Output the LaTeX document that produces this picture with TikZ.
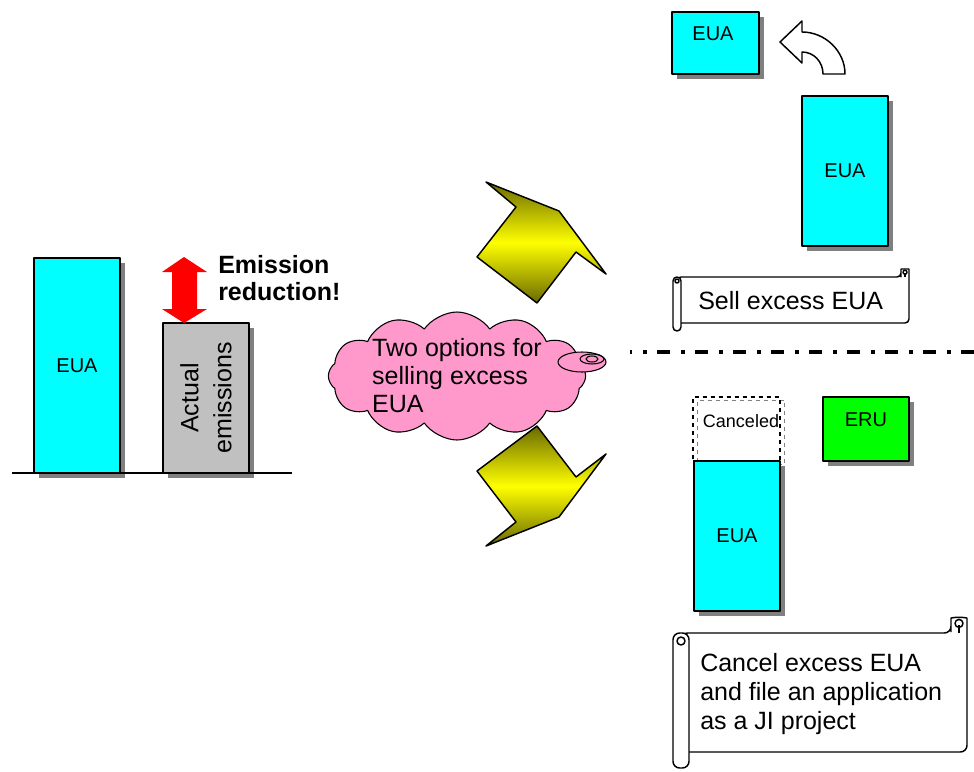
\documentclass[tikz,border=0pt]{standalone}
\usepackage{fontspec}
\setmainfont{Liberation Sans}
\usetikzlibrary{shapes.symbols, shadows, positioning}

\definecolor{shadowgray}{RGB}{128,128,128}
\definecolor{emisgray}{RGB}{192,192,192}
\definecolor{cloudpink}{RGB}{255,153,204}
\definecolor{arrowolive}{RGB}{105,105,0}
\definecolor{euacyan}{RGB}{0,255,255}
\definecolor{erugreen}{RGB}{0,255,0}

% scroll banner: left, top, right, bottom, curl size, corner radius
\newcommand{\scrollbox}[6]{%
  \draw[scrollline, fill=white, rounded corners=#6]
    ({#1+#5/2},#2) -- ({#3-#5},#2) -- ({#3-#5},{#2-#5/2})
    .. controls ({#3-#5},{#2-#5}) and (#3,{#2-#5}) .. (#3,{#2-#5/2})
    -- (#3,#4) -- ({#1+#5/2},#4) -- cycle;
  \draw[scrollline] ({#3-#5/2},#2) -- ({#3-#5/2},{#2-#5/2});
  \draw[scrollline] ({#3-#5/2},{#2-#5*0.6}) circle[radius=#5/4];
  \draw[scrollline, fill=white, rounded corners=#6] (#1,#2) rectangle ({#1+#5},{#4+#5});
  \draw[scrollline] ({#1+#5/2},{#2+#5/2}) circle[radius=#5/4];
}

\begin{document}
\begin{tikzpicture}[x=0.75pt, y=-0.75pt, line join=round,
    every node/.style={font=\fontsize{18.75}{21.75}\selectfont},
    scrollline/.style={line width=1.1pt},
    allowance/.style={draw, line width=1.1pt, fill=euacyan, inner sep=0pt,
        minimum width=64.5pt, font=\fontsize{15}{18}\selectfont,
        drop shadow={shadow xshift=4pt, shadow yshift=-4pt, fill=shadowgray, opacity=1}},
    boxtext/.style={inner sep=0pt, font=\fontsize{15}{18}\selectfont},
    optionarrow/.style={draw, line width=1.1pt, top color=arrowolive,
        bottom color=arrowolive, middle color=yellow}]

    \useasboundingbox (0,0) rectangle (974,771);

    % --- Before: allowance vs. actual emissions ---
    \node[allowance, minimum height=161.25pt] (euaheld) at (77,365.5) {EUA};
    \node[allowance, fill=emisgray, minimum height=112.5pt] (actual) at (206,398) {};
    \node[rotate=90, align=center, font=\fontsize{18.75}{24.75}\selectfont]
        (actualtext) at (actual.center) {Actual\\emissions};
    \draw[line width=1.1pt] (12,473) -- (292,473);

    \fill[red] (184,257) -- (207,272) -- (197,272) -- (197,309) -- (207,309)
        -- (184,323) -- (162,309) -- (172,309) -- (172,272) -- (162,272) -- cycle;
    \node[anchor=west, align=left, inner sep=0pt,
        font=\bfseries\fontsize{18.75}{20.25}\selectfont]
        (reduction) at (218,278) {Emission\\reduction!};

    % --- Two options ---
    \draw[optionarrow] (486,182) -- (559,211) -- (606,274) -- (576,252)
        -- (537,303) -- (477,257) -- (516,207) -- cycle;
    \draw[optionarrow] (537,426) -- (576,477) -- (606,454) -- (559,517)
        -- (486,546) -- (516,522) -- (477,471) -- cycle;

    \node[cloud, cloud puffs=12, cloud puff arc=110, cloud ignores aspect, draw,
        line width=0.8pt, fill=cloudpink, inner sep=0pt,
        minimum width=193pt, minimum height=96pt] (cloud) at (457,376) {};
    \node[align=left, font=\fontsize{18.75}{21}\selectfont]
        (cloudtext) at (cloud.center) {Two options for\\selling excess\\EUA};
    \draw[line width=0.8pt, fill=cloudpink] (582,362) ellipse[x radius=24, y radius=10];
    \draw[line width=0.8pt] (592,359) ellipse[x radius=12, y radius=5];
    \draw[line width=0.8pt] (592,359) ellipse[x radius=6, y radius=3];

    \draw[line width=3pt, dash pattern=on 9.75pt off 8.6pt on 2.5pt off 7.65pt,
        dash phase=8.25pt] (630,352) -- (974,352);

    % --- Option 1: sell ---
    \node[allowance, minimum width=65.25pt, minimum height=46.5pt] (euasold) at (715.5,43) {};
    \node[boxtext] (euasoldtext) at (713,34) {EUA};
    \draw[line width=1.1pt, fill=white] (780,42) -- (802,21) -- (802,32)
        .. controls (825,32) and (845,51) .. (845,74) -- (823,74)
        .. controls (823,62) and (814,52) .. (802,52) -- (802,63) -- cycle;
    \node[allowance, minimum height=112.5pt] (euakept) at (845,171) {EUA};

    \scrollbox{673}{277}{909}{323}{8}{3pt}
    \node[anchor=west, inner sep=0pt] (selltext) at (698,301) {Sell excess EUA};

    % --- Option 2: cancel and JI ---
    \node[draw, dashed, line width=1.1pt, minimum width=65.25pt, minimum height=48pt,
        drop shadow={shadow xshift=3.5pt, shadow yshift=-2.5pt, fill=none,
            draw=shadowgray, dashed, opacity=1}] (canceled) at (736.5,429) {};
    \node[boxtext, font=\fontsize{13.5}{16}\selectfont] (canceledtext) at (741,421) {Canceled};
    \node[allowance, minimum height=112.5pt] (euaremain) at (737,536) {EUA};
    \node[allowance, fill=erugreen, minimum height=48pt] (eru) at (866,429) {};
    \node[boxtext] (erutext) at (866,420) {ERU};

    \scrollbox{673}{633}{967}{752}{16}{5pt}
    \node[anchor=west, align=left, inner sep=0pt] (jitext) at (700,694)
        {Cancel excess EUA\\and file an application\\as a JI project};

\end{tikzpicture}
\end{document}
